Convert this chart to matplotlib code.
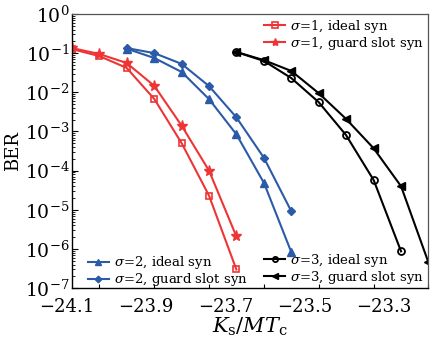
import matplotlib
matplotlib.use("Agg")
import matplotlib.pyplot as plt
import matplotlib.transforms as mtransforms
from matplotlib.ticker import LogLocator, NullFormatter, FixedLocator

plt.rcParams['font.family'] = ['DejaVu Serif']
plt.rcParams['mathtext.fontset'] = 'dejavuserif'

# x positions of the sample points (shared grid)
x_grid = [-24.100, -24.031, -23.962, -23.892, -23.823, -23.754, -23.685,
          -23.615, -23.546, -23.477, -23.408, -23.338, -23.269, -23.200]

x_s1 = x_grid[0:7]
ber_s1_ideal = [0.127, 0.084, 0.042, 6.7e-3, 5.0e-4, 2.3e-5, 3.0e-7]
ber_s1_guard = [0.135, 0.095, 0.056, 1.45e-2, 1.4e-3, 1.0e-4, 2.1e-6]

x_s2 = x_grid[2:9]
ber_s2_ideal = [0.130, 0.075, 0.033, 6.7e-3, 8.5e-4, 4.8e-5, 8.2e-7]
ber_s2_guard = [0.135, 0.100, 0.053, 1.44e-2, 2.3e-3, 2.1e-4, 9.1e-6]

x_s3_ideal = x_grid[6:13]
ber_s3_ideal = [0.107, 0.063, 0.023, 5.6e-3, 8.1e-4, 5.7e-5, 8.7e-7]
x_s3_guard = x_grid[6:14]
ber_s3_guard = [0.107, 0.066, 0.035, 9.5e-3, 2.1e-3, 3.7e-4, 4.0e-5, 4.6e-7]

xtick_values = [-24.1, -23.9, -23.7, -23.5, -23.3]
xtick_labels = ['\u221224.1', '\u221223.9', '\u221223.7', '\u221223.5', '\u221223.3']

red = '#EE3535'
blue = '#2B5BA8'
black = '#000000'

fig = plt.figure(figsize=(4.34, 3.41), dpi=100)
ax = fig.add_axes([0.166, 0.155, 0.821, 0.804])

lw = 1.5
l1, = ax.plot(x_s1, ber_s1_ideal, color=red, lw=lw, marker='s', ms=5, mfc='none', mew=1.2, label=r'$\sigma$=1, ideal syn')
l2, = ax.plot(x_s1, ber_s1_guard, color=red, lw=lw, marker='*', ms=8, label=r'$\sigma$=1, guard slot syn')
l3, = ax.plot(x_s2, ber_s2_ideal, color=blue, lw=lw, marker='^', ms=6, label=r'$\sigma$=2, ideal syn')
l4, = ax.plot(x_s2, ber_s2_guard, color=blue, lw=lw, marker='D', ms=4.5, label=r'$\sigma$=2, guard slot syn')
l5, = ax.plot(x_s3_ideal, ber_s3_ideal, color=black, lw=lw, marker='o', ms=5, mfc='none', mew=1.3, label=r'$\sigma$=3, ideal syn')
l6, = ax.plot(x_s3_guard, ber_s3_guard, color=black, lw=lw, marker='<', ms=6, label=r'$\sigma$=3, guard slot syn')

ax.set_yscale('log')
ax.set_ylim(1e-7, 1)
ax.set_xlim(-24.1, -23.2)

ax.yaxis.set_major_locator(LogLocator(base=10, numticks=20))
ax.yaxis.set_minor_locator(LogLocator(base=10, subs=range(2, 10), numticks=20))
ax.yaxis.set_minor_formatter(NullFormatter())

ax.set_xticks(xtick_values)
ax.set_xticklabels(xtick_labels)
ax.xaxis.set_minor_locator(FixedLocator(x_grid[1::2]))

ax.tick_params(axis='x', which='major', length=0, labelsize=13, pad=7)
ax.tick_params(axis='x', which='minor', direction='in', length=3, width=0.8, bottom=True, top=False)
ax.tick_params(axis='y', which='major', direction='in', length=4, width=0.8, labelsize=13.5, pad=2, right=False)
ax.tick_params(axis='y', which='minor', direction='in', length=2, width=0.6, right=False)

offset = mtransforms.ScaledTranslation(-5/100, 0, fig.dpi_scale_trans)
for lab in ax.get_xticklabels():
    lab.set_transform(lab.get_transform() + offset)

for s in ['top', 'right']:
    ax.spines[s].set_color('#555555')
    ax.spines[s].set_linewidth(0.9)
for s in ['left', 'bottom']:
    ax.spines[s].set_color('black')
    ax.spines[s].set_linewidth(1.0)

ax.set_ylabel('BER', fontsize=13, labelpad=2)
ax.set_xlabel(r'$K_{\mathrm{s}}/MT_{\mathrm{c}}$', fontsize=15, labelpad=0)

leg_kw = dict(frameon=False, fontsize=9.5, handlelength=1.6, handletextpad=0.4,
              labelspacing=0.0, borderpad=0.1)
lg1 = ax.legend(handles=[l1, l2], loc='upper right', bbox_to_anchor=(1.0, 1.0), borderaxespad=0.2, **leg_kw)
ax.add_artist(lg1)
lg2 = ax.legend(handles=[l3, l4], loc='lower left', bbox_to_anchor=(0.04, -0.005), borderaxespad=0.0, **leg_kw)
ax.add_artist(lg2)
lg3 = ax.legend(handles=[l5, l6], loc='lower right', bbox_to_anchor=(1.0, -0.005), borderaxespad=0.2, **leg_kw)

for lg in (lg1, lg2, lg3):
    for h in lg.legend_handles:
        h.set_markersize(h.get_markersize() * 0.75)

fig.savefig('out.png', dpi=100)
